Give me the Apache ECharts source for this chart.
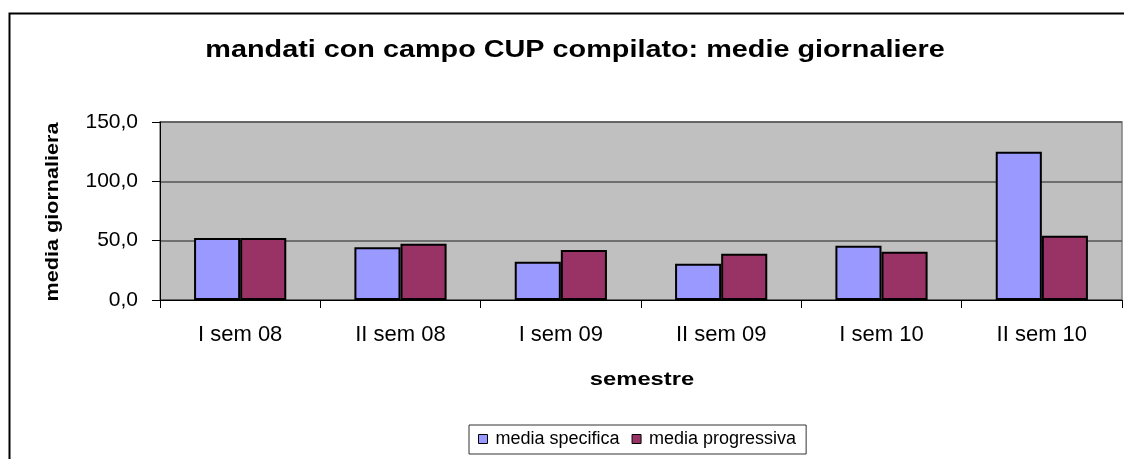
<!DOCTYPE html>
<html>
<head>
<meta charset="utf-8">
<script src="https://cdn.jsdelivr.net/npm/echarts@6/dist/echarts.min.js"></script>
<style>html,body{margin:0;padding:0;background:#fff;}#c{width:1124px;height:459px;}</style>
</head>
<body>
<div id="c"></div>
<script>
var categories = ['I sem 08', 'II sem 08', 'I sem 09', 'II sem 09', 'I sem 10', 'II sem 10'];
var mediaSpecifica = [52.3, 44.4, 32.3, 30.6, 45.7, 124.9];
var mediaProgressiva = [52.3, 47.4, 42.1, 39.0, 40.7, 54.2];
var yTicks = {min: 0, max: 150, interval: 50};

var chart = echarts.init(document.getElementById('c'));
var font = '"Liberation Sans", Arial, sans-serif';
chart.setOption({
  animation: false,
  graphic: [
    {type: 'rect', shape: {x: 9.5, y: 13.5, width: 1130, height: 470}, style: {fill: 'none', stroke: '#000', lineWidth: 2}, z: 0},
    {type: 'text', x: 575, y: 50, scaleX: 1.2,
      style: {text: 'mandati con campo CUP compilato: medie giornaliere', font: 'bold 24px ' + font, fill: '#000', align: 'center', verticalAlign: 'middle'}},
    {type: 'text', x: 53, y: 212, rotation: Math.PI / 2, scaleX: 1.2,
      style: {text: 'media giornaliera', font: 'bold 18px ' + font, fill: '#000', align: 'center', verticalAlign: 'middle'}},
    {type: 'text', x: 642, y: 380, scaleX: 1.25,
      style: {text: 'semestre', font: 'bold 19px ' + font, fill: '#000', align: 'center', verticalAlign: 'middle'}}
  ],
  grid: {left: 160, right: 2, top: 122, bottom: 159, show: true, backgroundColor: '#C0C0C0', borderColor: '#808080', borderWidth: 1.5},
  legend: {
    data: ['media specifica', 'media progressiva'],
    left: 469, top: 425,
    itemWidth: 9, itemHeight: 9, itemGap: 12,
    borderColor: '#333', borderWidth: 1, padding: [5, 10, 6, 9],
    backgroundColor: '#fff',
    icon: 'rect',
    textStyle: {fontFamily: font, fontSize: 18, color: '#000', padding: [0, 0, 0, 3]},
    itemStyle: {borderColor: '#000', borderWidth: 1}
  },
  xAxis: {
    type: 'category', data: categories,
    axisLine: {lineStyle: {color: '#000', width: 1}},
    axisTick: {show: true, length: 8, lineStyle: {color: '#000'}},
    axisLabel: {fontFamily: font, fontSize: 22, color: '#000', margin: 24}
  },
  yAxis: {
    type: 'value', min: yTicks.min, max: yTicks.max, interval: yTicks.interval,
    axisLine: {show: true, lineStyle: {color: '#000', width: 1}},
    axisTick: {show: true, length: 8, lineStyle: {color: '#000'}},
    axisLabel: {fontFamily: font, fontSize: 21, color: '#000', margin: 22,
      formatter: function (v) { return v.toFixed(1).replace('.', ','); }},
    splitLine: {lineStyle: {color: '#555555', width: 1.5}}
  },
  series: [
    {name: 'media specifica', type: 'bar', data: mediaSpecifica, barGap: '0%', barCategoryGap: '42.5%',
      itemStyle: {color: '#9999FF', borderColor: '#000', borderWidth: 2}},
    {name: 'media progressiva', type: 'bar', data: mediaProgressiva,
      itemStyle: {color: '#993366', borderColor: '#000', borderWidth: 2}}
  ]
});
</script>
</body>
</html>
